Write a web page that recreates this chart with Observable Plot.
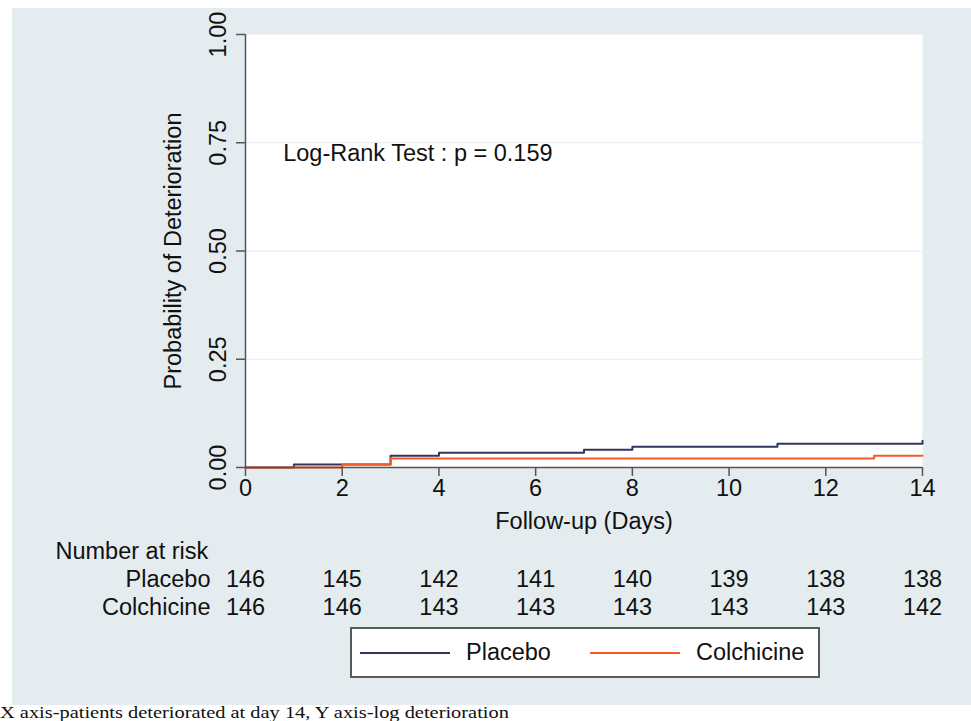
<!DOCTYPE html>
<html>
<head>
<meta charset="utf-8">
<script src="https://cdn.jsdelivr.net/npm/d3@7"></script>
<script src="https://cdn.jsdelivr.net/npm/@observablehq/plot@0.6"></script>
<style>
  body { margin: 0; background: #fff; font-family: "Liberation Sans", Arial, sans-serif; }
  #wrap { position: relative; width: 971px; height: 721px; overflow: hidden; }
  #bg { position: absolute; left: 12px; top: 8px; width: 959px; height: 697px; background: #e4ecef; }
  #legend { position: absolute; left: 350px; top: 627px; width: 466px; height: 47px; background: #fff; border: 2px solid #5a5a5a; }
  #legend .ln { position: absolute; top: 23px; width: 90px; height: 2px; }
  #legend .tx { position: absolute; top: 9px; font-size: 23.5px; color: #111; line-height: 28px; }
  #caption { position: absolute; left: 0; top: 704px; font-family: "Liberation Serif", "Times New Roman", serif; font-size: 17px; line-height: 17px; color: #111; white-space: nowrap; transform-origin: 0 0; transform: scaleX(1.2); }
</style>
</head>
<body>
<div id="wrap">
  <div id="bg"></div>
  <div id="legend"></div>
  <div id="caption"></div>
</div>
<script>
// ---- data ----
const seriesNames = ["Placebo", "Colchicine"];
const seriesColors = ["#2f375f", "#f65a26"];
const placeboDays = [0, 1, 3, 4, 7, 8, 11, 14];
const placeboProb = [0, 0.0068, 0.0274, 0.0342, 0.0411, 0.0479, 0.0548, 0.0616];
const colchicineDays = [0, 2, 3, 13, 14];
const colchicineProb = [0, 0.0068, 0.0205, 0.0274, 0.0274];
const riskDays = [0, 2, 4, 6, 8, 10, 12, 14];
const placeboAtRisk = [146, 145, 142, 141, 140, 139, 138, 138];
const colchicineAtRisk = [146, 146, 143, 143, 143, 143, 143, 142];
const xTicks = [0, 2, 4, 6, 8, 10, 12, 14];
const yTicks = [0, 0.25, 0.5, 0.75, 1];
const yTickLabels = ["0.00", "0.25", "0.50", "0.75", "1.00"];
const annotation = "Log-Rank Test : p = 0.159";
const xLabel = "Follow-up (Days)";
const yLabel = "Probability of Deterioration";
const riskTitle = "Number at risk";
const captionText = "X axis-patients deteriorated at day 14, Y axis-log deterioration";

// ---- build tables ----
const curves = [
  ...placeboDays.map((d, i) => ({day: d, p: placeboProb[i], group: seriesNames[0]})),
  ...colchicineDays.map((d, i) => ({day: d, p: colchicineProb[i], group: seriesNames[1]}))
];
const riskRows = [
  ...riskDays.map((d, i) => ({day: d, n: placeboAtRisk[i], row: 0})),
  ...riskDays.map((d, i) => ({day: d, n: colchicineAtRisk[i], row: 1}))
];
const yTickData = yTicks.map((v, i) => ({v, label: yTickLabels[i]}));
const FS = 23.5;
const axisColor = "#555";

const chart = Plot.plot({
  width: 959,
  height: 697,
  marginLeft: 233,
  marginRight: 49,
  marginTop: 26,
  marginBottom: 238,
  style: {background: "transparent", fontFamily: "'Liberation Sans', Arial, sans-serif", color: "#111"},
  x: {type: "linear", domain: [0, 14]},
  y: {type: "linear", domain: [0, 1]},
  color: {domain: seriesNames, range: seriesColors},
  marks: [
    Plot.frame({fill: "white", stroke: null}),
    Plot.ruleY(yTicks.filter(v => v > 0 && v < 1), {stroke: "#e3ecef", strokeWidth: 1.2}),
    Plot.line(curves, {x: "day", y: "p", z: "group", stroke: "group", curve: "step-after", strokeWidth: 2}),
    Plot.ruleX([0], {stroke: axisColor, strokeWidth: 1.5}),
    Plot.ruleY([0], {stroke: axisColor, strokeWidth: 1.5}),
    Plot.axisX({ticks: xTicks, tickSize: 9, tickPadding: 3, fontSize: FS, label: null, stroke: axisColor, strokeWidth: 1.5, color: "#111"}),
    Plot.axisY({ticks: yTicks, tickSize: 9, tickFormat: () => "", label: null, stroke: axisColor, strokeWidth: 1.5}),
    Plot.text(yTickData, {x: () => 0, y: "v", text: "label", rotate: -90, textAnchor: "middle", lineAnchor: "middle", dx: -27, fontSize: FS, fill: "#111"}),
    Plot.text([yLabel], {frameAnchor: "left", rotate: -90, textAnchor: "middle", lineAnchor: "middle", dx: -72, fontSize: FS, fill: "#111"}),
    Plot.text([xLabel], {frameAnchor: "bottom", textAnchor: "middle", lineAnchor: "middle", dy: 54, fontSize: FS, fill: "#111"}),
    Plot.text([annotation], {x: () => 0.78, y: () => 0.726, textAnchor: "start", lineAnchor: "middle", fontSize: FS, fill: "#111"}),
    Plot.text([riskTitle], {frameAnchor: "bottom-left", textAnchor: "start", lineAnchor: "middle", dx: -190, dy: 84, fontSize: FS, fill: "#111"}),
    Plot.text([seriesNames[0]], {frameAnchor: "bottom-left", textAnchor: "end", lineAnchor: "middle", dx: -35, dy: 112, fontSize: FS, fill: "#111"}),
    Plot.text([seriesNames[1]], {frameAnchor: "bottom-left", textAnchor: "end", lineAnchor: "middle", dx: -35, dy: 140, fontSize: FS, fill: "#111"}),
    Plot.text(riskRows.filter(r => r.row === 0), {x: "day", frameAnchor: "bottom", text: "n", textAnchor: "middle", lineAnchor: "middle", dy: 112, fontSize: FS, fill: "#111"}),
    Plot.text(riskRows.filter(r => r.row === 1), {x: "day", frameAnchor: "bottom", text: "n", textAnchor: "middle", lineAnchor: "middle", dy: 140, fontSize: FS, fill: "#111"})
  ]
});
document.getElementById("bg").appendChild(chart);

// legend
const legend = document.getElementById("legend");
const lineLefts = [8, 238];
const textLefts = [114, 344];
seriesNames.forEach((name, i) => {
  const ln = document.createElement("div");
  ln.className = "ln";
  ln.style.left = lineLefts[i] + "px";
  ln.style.background = seriesColors[i];
  legend.appendChild(ln);
  const tx = document.createElement("div");
  tx.className = "tx";
  tx.style.left = textLefts[i] + "px";
  tx.textContent = name;
  legend.appendChild(tx);
});
document.getElementById("caption").textContent = captionText;
</script>
</body>
</html>
